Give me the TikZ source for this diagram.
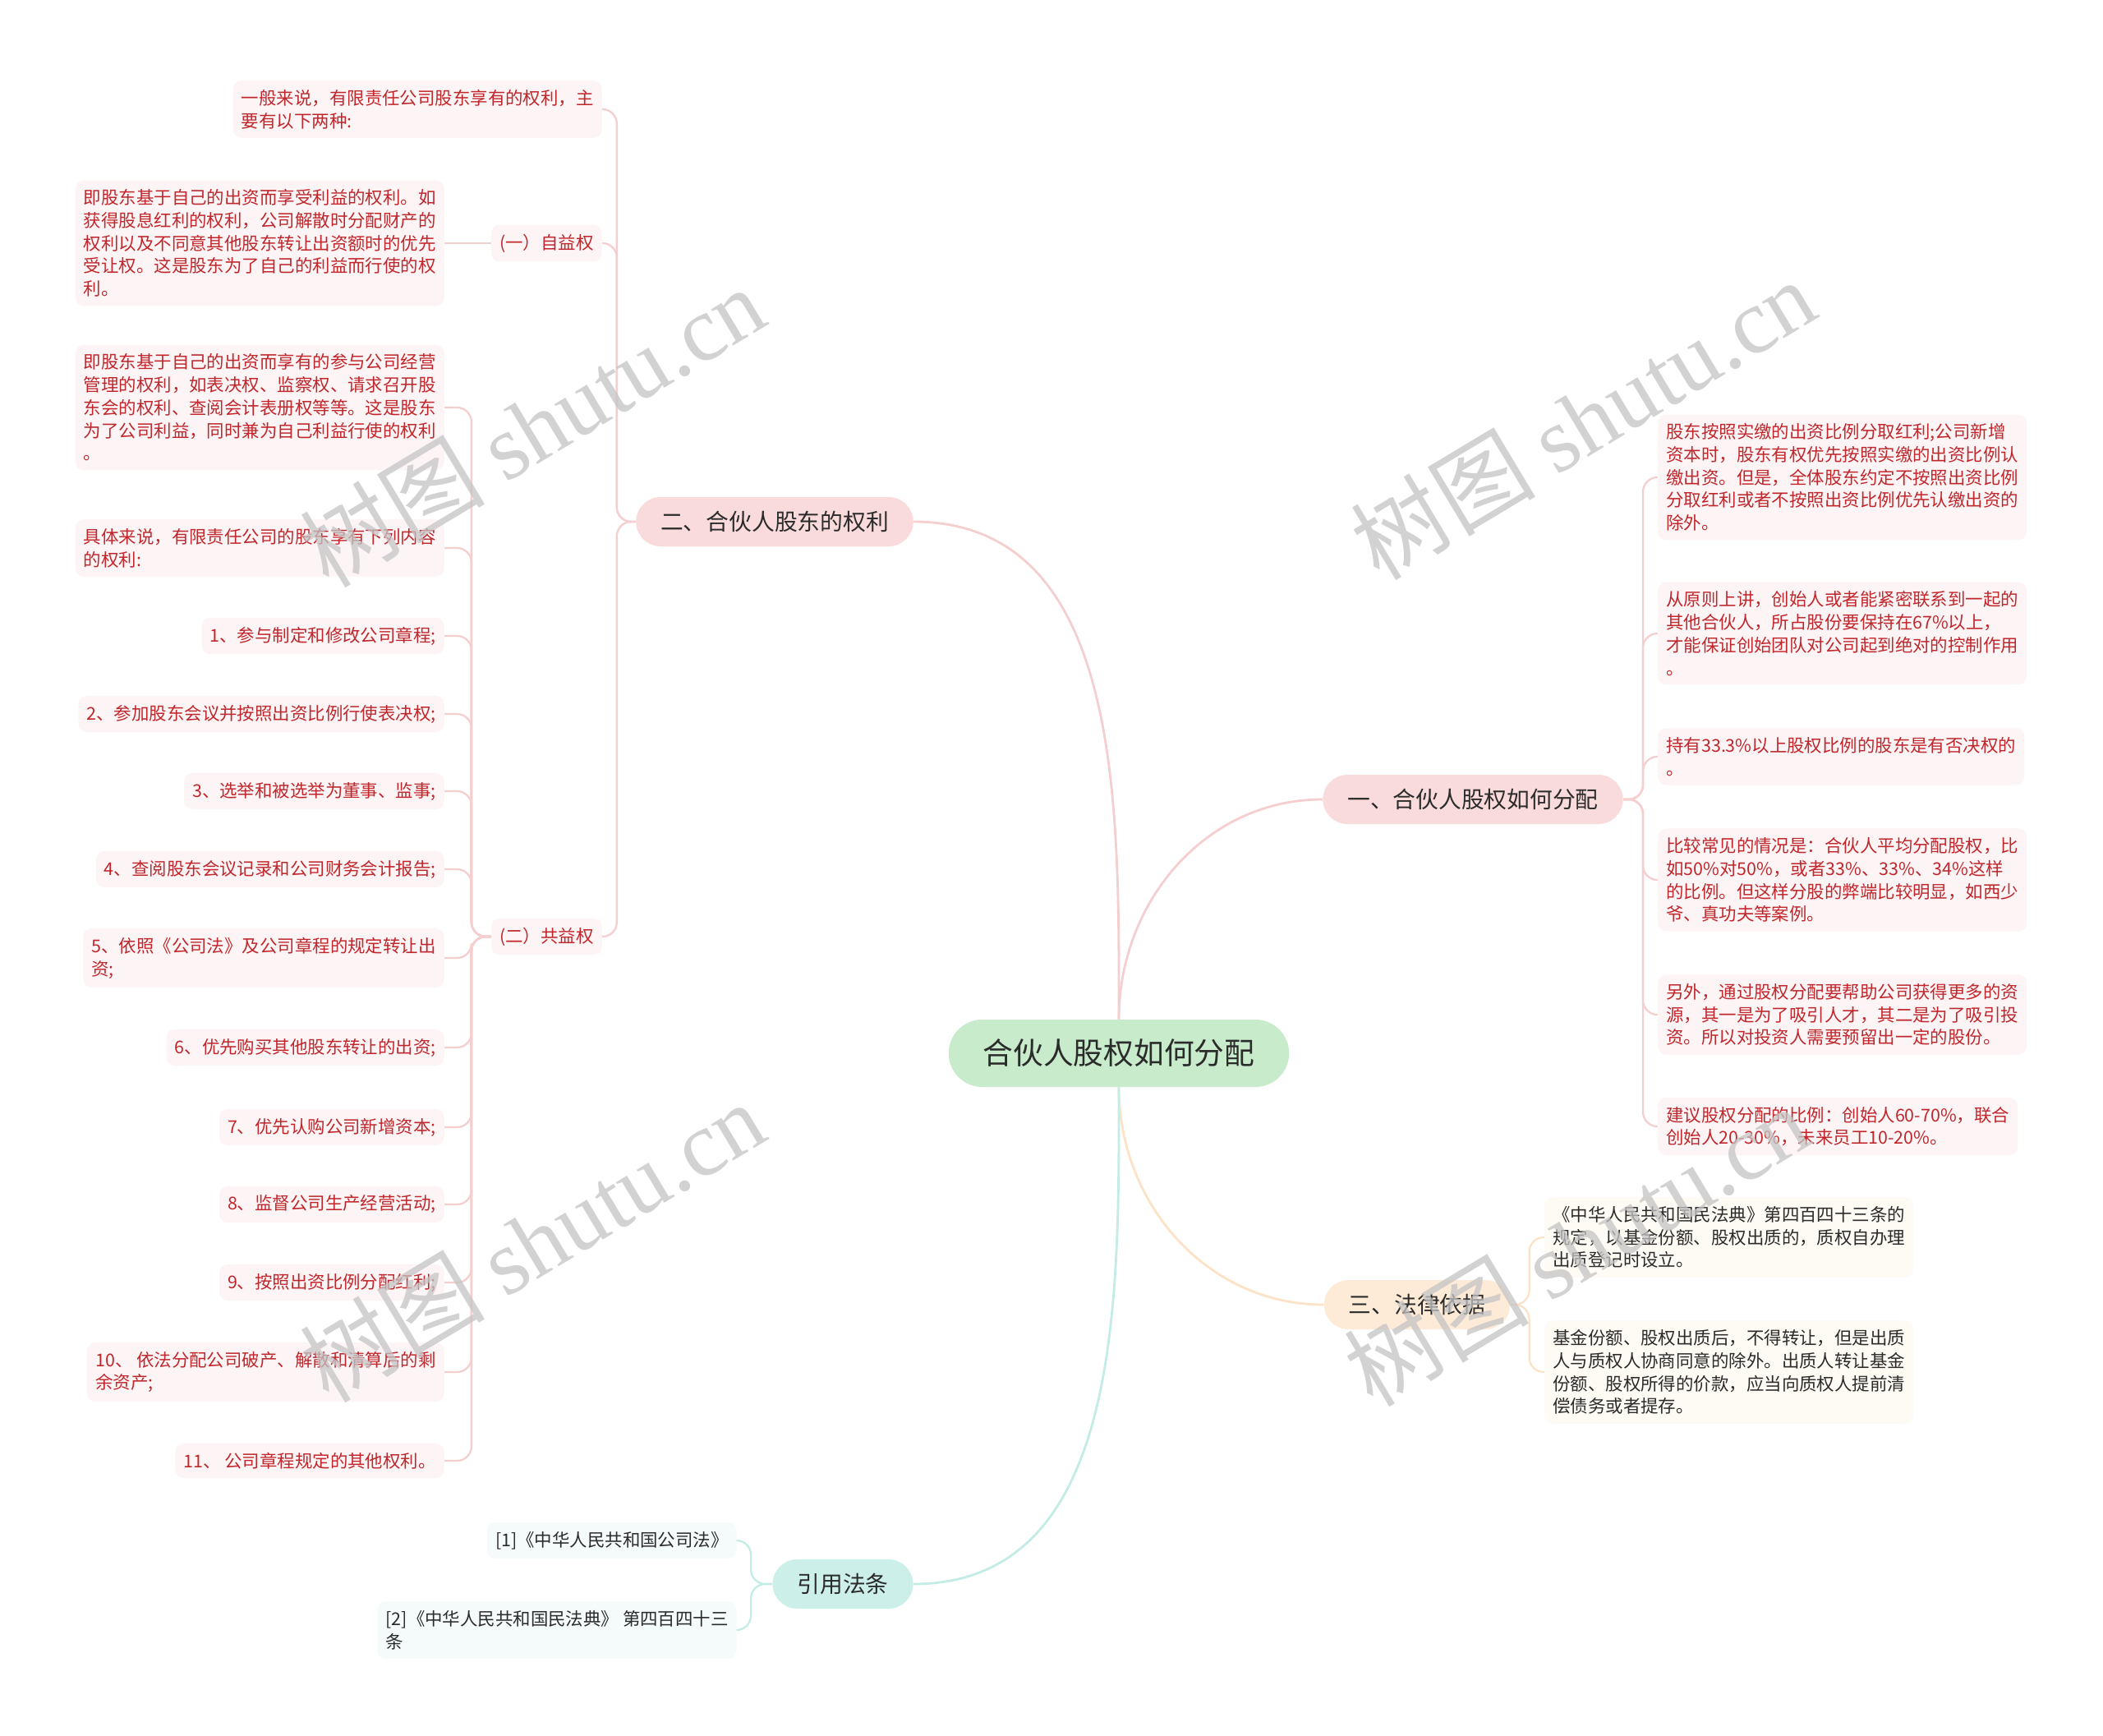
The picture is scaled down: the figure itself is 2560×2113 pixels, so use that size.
\documentclass[tikz,border=0pt]{standalone}
\usepackage{fontspec}
\setmainfont{Noto Sans CJK SC}
\newfontfamily\markfont{Liberation Serif}
\usetikzlibrary{calc}

\definecolor{rootgreen}{HTML}{C7EBCB}
\definecolor{branchpink}{HTML}{FADBDB}
\definecolor{branchpeach}{HTML}{FDEBD8}
\definecolor{branchteal}{HTML}{CDEFEA}
\definecolor{leafpink}{HTML}{FDF5F5}
\definecolor{leafpeach}{HTML}{FEFAF4}
\definecolor{leafteal}{HTML}{F4FBFA}
\definecolor{leafred}{HTML}{C0272D}
\definecolor{ink}{HTML}{2B2B2B}
\definecolor{linepink}{HTML}{F5CFCF}
\definecolor{linepeach}{HTML}{FCE3C8}
\definecolor{lineteal}{HTML}{C4ECE6}
\definecolor{markgray}{HTML}{C4C4C4}

\begin{document}
\begin{tikzpicture}[x=0.02cm, y=-0.02cm,
  root/.style={fill=rootgreen, text=ink, rounded corners=0.82cm, minimum height=1.64cm,
    inner xsep=0.84cm, font=\fontsize{20.9}{25}\selectfont},
  branch/.style={text=ink, rounded corners=0.6cm, minimum height=1.2cm, inner xsep=0.6cm,
    font=\fontsize{15.8}{19}\selectfont},
  leaf/.style={rounded corners=0.2cm, inner xsep=0.2cm, inner ysep=0.22cm, align=left,
    font=\fontsize{12.2}{15.8}\selectfont},
  redleaf/.style={leaf, fill=leafpink, text=leafred},
  peachleaf/.style={leaf, fill=leafpeach, text=ink},
  tealleaf/.style={leaf, fill=leafteal, text=ink},
  mainline/.style={line width=1.6pt},
  twig/.style={line width=1.3pt, rounded corners=10pt},
  wmark/.style={text=markgray, opacity=0.75, rotate=31, font=\fontsize{64}{70}\selectfont}]
\useasboundingbox (0,0) rectangle (2560,2113);
\fill[white] (0,0) rectangle (2560,2113);

% centre and the four main branches
\node[root] (root) at (1362,1282) {合伙人股权如何分配};
\node[branch, fill=branchpink] (fenpei) at (1793,973) {一、合伙人股权如何分配};
\node[branch, fill=branchpink] (quanli) at (943,635) {二、合伙人股东的权利};
\node[branch, fill=branchpeach] (yiju) at (1725,1588) {三、法律依据};
\node[branch, fill=branchteal] (fatiao) at (1026,1928) {引用法条};

\draw[mainline, linepink] (root.north) to[out=90, in=0] (quanli.east);
\draw[mainline, linepink] (root.north) to[out=90, in=180] (fenpei.west);
\draw[mainline, linepeach] (root.south) to[out=-90, in=180] (yiju.west);
\draw[mainline, lineteal] (root.south) to[out=-90, in=0] (fatiao.east);

% RIGHT: 一、合伙人股权如何分配
\foreach \y/\t [count=\i] in {
  581/{股东按照实缴的出资比例分取红利;公司新增\\资本时，股东有权优先按照实缴的出资比例认\\缴出资。但是，全体股东约定不按照出资比例\\分取红利或者不按照出资比例优先认缴出资的\\除外。},
  771/{从原则上讲，创始人或者能紧密联系到一起的\\其他合伙人，所占股份要保持在67\%以上，\\才能保证创始团队对公司起到绝对的控制作用\\。},
  921/{持有33.3\%以上股权比例的股东是有否决权的\\。},
  1071/{比较常见的情况是：合伙人平均分配股权，比\\如50\%对50\%，或者33\%、33\%、34\%这样\\的比例。但这样分股的弊端比较明显，如西少\\爷、真功夫等案例。},
  1235/{另外，通过股权分配要帮助公司获得更多的资\\源，其一是为了吸引人才，其二是为了吸引投\\资。所以对投资人需要预留出一定的股份。},
  1371/{建议股权分配的比例：创始人60-70\%，联合\\创始人20-30\%，未来员工10-20\%。}}{
  \node[redleaf, anchor=west] (fp\i) at (2018,\y) {\t};
  \draw[twig, linepink] (fenpei.east) -- ++(24,0) |- (fp\i.west);
}

% LEFT: 二、合伙人股东的权利
\node[redleaf, anchor=east] (yiban) at (733,133) {一般来说，有限责任公司股东享有的权利，主\\要有以下两种:};
\node[redleaf, anchor=east] (ziyi) at (733,296) {(一）自益权};
\node[redleaf, anchor=east] (gongyi) at (733,1140) {(二）共益权};
\foreach \n in {yiban, ziyi, gongyi}
  \draw[twig, linepink] (quanli.west) -- ++(-23,0) |- (\n.east);

\node[redleaf, anchor=east] (zy1) at (541,296) {即股东基于自己的出资而享受利益的权利。如\\获得股息红利的权利，公司解散时分配财产的\\权利以及不同意其他股东转让出资额时的优先\\受让权。这是股东为了自己的利益而行使的权\\利。};
\draw[twig, linepink] (ziyi.west) -- (zy1.east);

\foreach \y/\t [count=\i] in {
  496/{即股东基于自己的出资而享有的参与公司经营\\管理的权利，如表决权、监察权、请求召开股\\东会的权利、查阅会计表册权等等。这是股东\\为了公司利益，同时兼为自己利益行使的权利\\。},
  667/{具体来说，有限责任公司的股东享有下列内容\\的权利:},
  774/{1、参与制定和修改公司章程;},
  869/{2、参加股东会议并按照出资比例行使表决权;},
  963/{3、选举和被选举为董事、监事;},
  1058/{4、查阅股东会议记录和公司财务会计报告;},
  1166/{5、依照《公司法》及公司章程的规定转让出\\资;},
  1275/{6、优先购买其他股东转让的出资;},
  1372/{7、优先认购公司新增资本;},
  1466/{8、监督公司生产经营活动;},
  1561/{9、按照出资比例分配红利;},
  1670/{10、 依法分配公司破产、解散和清算后的剩\\余资产;},
  1778/{11、 公司章程规定的其他权利。}}{
  \node[redleaf, anchor=east] (gy\i) at (541,\y) {\t};
  \draw[twig, linepink] (gongyi.west) -- ++(-24,0) |- (gy\i.east);
}

% 三、法律依据
\node[peachleaf, anchor=west] (yj1) at (1880,1506) {《中华人民共和国民法典》第四百四十三条的\\规定，以基金份额、股权出质的，质权自办理\\出质登记时设立。};
\node[peachleaf, anchor=west] (yj2) at (1880,1670) {基金份额、股权出质后，不得转让，但是出质\\人与质权人协商同意的除外。出质人转让基金\\份额、股权所得的价款，应当向质权人提前清\\偿债务或者提存。};
\foreach \n in {yj1, yj2}
  \draw[twig, linepeach] (yiju.east) -- ++(23,0) |- (\n.west);

% 引用法条
\node[tealleaf, anchor=east] (ft1) at (897,1875) {[1]《中华人民共和国公司法》};
\node[tealleaf, anchor=east] (ft2) at (897,1984) {[2]《中华人民共和国民法典》 第四百四十三\\条};
\foreach \n in {ft1, ft2}
  \draw[twig, lineteal] (fatiao.west) -- ++(-26,0) |- (\n.east);

% watermarks
\foreach \x/\y [count=\i] in {648/519, 1927/510, 648/1511, 1919/1516}
  \node[wmark] (wm\i) at (\x,\y) {树图 {\markfont shutu.cn}};
\end{tikzpicture}
\end{document}
